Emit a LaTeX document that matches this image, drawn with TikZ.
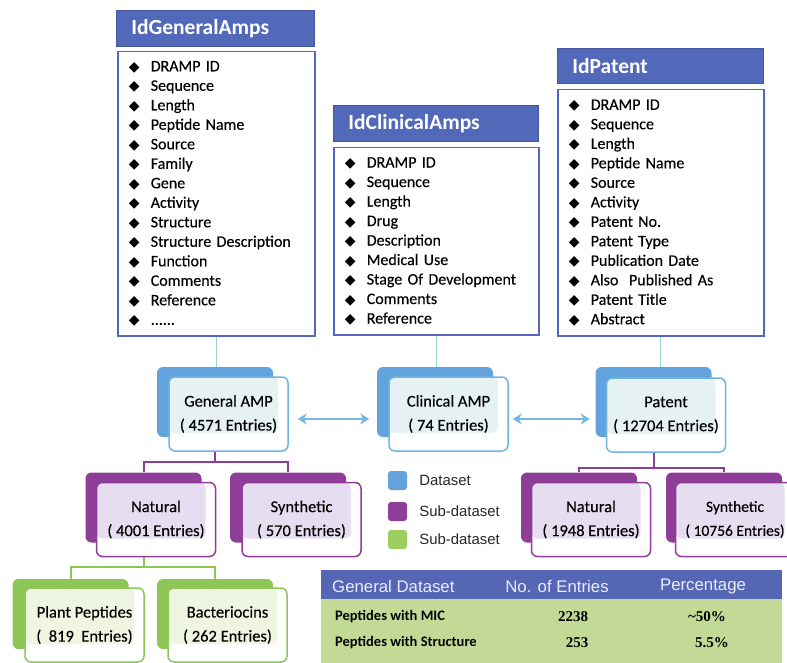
\documentclass[tikz,border=0pt]{standalone}
\usepackage{fontspec}
\setmainfont{Carlito}[UprightFeatures={FakeBold=0.3}]
\newfontfamily\arialfont{Liberation Sans}
\newfontfamily\timesfont{Liberation Serif}
\newfontfamily\symfont{DejaVu Sans}
\usetikzlibrary{arrows.meta,positioning,backgrounds}

\definecolor{hdrblue}{RGB}{82,104,184}
\definecolor{lstblue}{RGB}{84,104,190}
\definecolor{dsblue}{RGB}{98,163,221}
\definecolor{dsedge}{RGB}{112,180,228}
\definecolor{dstint}{RGB}{230,241,244}
\definecolor{subpur}{RGB}{142,62,152}
\definecolor{purtint}{RGB}{230,222,240}
\definecolor{subgrn}{RGB}{143,198,88}
\definecolor{grntint}{RGB}{238,245,224}
\definecolor{tealline}{RGB}{160,208,218}
\definecolor{arrblue}{RGB}{122,182,226}
\definecolor{tbhead}{RGB}{85,103,180}
\definecolor{tbbody}{RGB}{195,217,150}
\definecolor{leggrn}{RGB}{155,205,95}

\newcommand{\dia}{\makebox[22pt][l]{\symfont\fontsize{14}{14}\selectfont ◆}}

\begin{document}
\begin{tikzpicture}[x=1pt, y=-1pt, >={Stealth[length=9pt,width=11pt]},
  hdr/.style={fill=hdrblue, draw=hdrblue!85!black, line width=0.8pt, text=white,
    font=\fontsize{21.5}{24}\selectfont\bfseries, anchor=north west,
    minimum height=36pt, inner xsep=15pt, align=left},
  lst/.style={draw=lstblue, line width=1.5pt, fill=white, anchor=north west,
    inner xsep=11pt, align=left, text=black, font=\fontsize{16}{19.5}\selectfont},
  dback/.style={rounded corners=6pt, fill=#1, minimum width=116pt,
    minimum height=70pt, inner sep=0pt},
  dfront/.style={draw=#1, line width=1.5pt, rounded corners=6pt, fill=white,
    minimum width=119pt, minimum height=74pt, align=center, text=black,
    font=\fontsize{16.5}{24}\selectfont},
  tint/.style={path picture={\fill[#1] (path picture bounding box.north west)
    rectangle ([xshift=-10pt,yshift=18pt]path picture bounding box.south east);}},
  linkteal/.style={tealline, line width=1.2pt},
  linkpur/.style={subpur, line width=2pt},
  linkgrn/.style={subgrn, line width=2pt},
  dsarrow/.style={<->, arrblue, line width=2.2pt},
  legsq/.style={rounded corners=3pt, minimum size=19pt, inner sep=0pt},
  legtxt/.style={inner sep=0pt, text=black!85, font=\arialfont\fontsize{14.9}{16}\selectfont},
  thtxt/.style={inner sep=0pt, text=white!92!blue, font=\arialfont\fontsize{16.8}{18}\selectfont},
  rowlbl/.style={inner sep=0pt, anchor=west, font=\fontsize{14.5}{16}\selectfont\bfseries},
  rownum/.style={inner sep=0pt, font=\timesfont\fontsize{15}{16}\selectfont\bfseries}]

\useasboundingbox (0,0) rectangle (787,663);

% tables of the three datasets
\node[hdr, text width=168pt] (hgen) at (116,10) {IdGeneralAmps};
\node[lst, text width=175pt, minimum height=284pt] (lgen) at (117,51)
  {\dia DRAMP ID\\ \dia Sequence\\ \dia Length\\ \dia Peptide Name\\ \dia Source\\
   \dia Family\\ \dia Gene\\ \dia Activity\\ \dia Structure\\ \dia Structure Description\\
   \dia Function\\ \dia Comments\\ \dia Reference\\ \dia ......};

\node[hdr, text width=175pt] (hclin) at (333,105) {IdClinicalAmps};
\node[lst, text width=183pt, minimum height=187pt] (lclin) at (333,147)
  {\dia DRAMP ID\\ \dia Sequence\\ \dia Length\\ \dia Drug\\ \dia Description\\
   \dia Medical Use\\ \dia Stage Of Development\\ \dia Comments\\ \dia Reference};

\node[hdr, text width=176pt, minimum height=35pt] (hpat) at (557,48) {IdPatent};
\node[lst, text width=184pt, minimum height=246pt] (lpat) at (557,89)
  {\dia DRAMP ID\\ \dia Sequence\\ \dia Length\\ \dia Peptide Name\\ \dia Source\\
   \dia Activity\\ \dia Patent No.\\ \dia Patent Type\\ \dia Publication Date\\
   \dia Also\ \ Published As\\ \dia Patent Title\\ \dia Abstract};

% datasets
\node[dback=dsblue] (genb) at (215,402) {};
\node[dfront=dsedge, tint=dstint] (gen) at (228.5,414) {General AMP\\( 4571 Entries)};
\node[dback=dsblue] (clinb) at (435,402) {};
\node[dfront=dsedge, tint=dstint] (clin) at (448.5,414) {Clinical AMP\\( 74 Entries)};
\node[dback=dsblue] (patb) at (653.5,402) {};
\node[dfront=dsedge, tint=dstint] (pat) at (666,415) {Patent\\( 12704\ Entries)};

% sub-datasets
\node[dback=subpur] (nat1b) at (143.5,507.5) {};
\node[dfront=subpur, tint=purtint] (nat1) at (156,519.5) {Natural\\( 4001 Entries)};
\node[dback=subpur] (syn1b) at (288,507.5) {};
\node[dfront=subpur, tint=purtint] (syn1) at (301.5,519.5) {Synthetic\\( 570 Entries)};
\node[dback=subpur] (nat2b) at (579,507.5) {};
\node[dfront=subpur, tint=purtint] (nat2) at (591,519.5) {Natural\\( 1948 Entries)};
\node[dback=subpur] (syn2b) at (724,507.5) {};
\node[dfront=subpur, tint=purtint, inner xsep=0pt, font=\fontsize{15.5}{24}\selectfont]
  (syn2) at (735,519.5) {Synthetic\\( 10756 Entries)};

\node[dback=subgrn] (plantb) at (70.5,614) {};
\node[dfront=subgrn, tint=grntint] (plant) at (84.5,625) {Plant Peptides\\(\ \ 819\ \ Entries)};
\node[dback=subgrn] (bactb) at (215,614) {};
\node[dfront=subgrn, tint=grntint] (bact) at (227.5,625) {Bacteriocins\\( 262 Entries)};

\begin{scope}[on background layer]
\draw[linkteal] (lgen.south) -- (lgen.south |- genb.north);
\draw[linkteal] (lclin.south) -- (lclin.south |- clinb.north);
\draw[linkteal] (lpat.south) -- (lpat.south |- patb.north);
\draw[linkpur] (genb.south) -- ++(0,25) -| (nat1b.north);
\draw[linkpur] (genb.south) -- ++(0,25) -| (syn1b.north);
\draw[linkpur] (patb.south) -- ++(0,31) -| (nat2b.north);
\draw[linkpur] (patb.south) -- ++(0,31) -| (syn2b.north);
\draw[linkgrn] (nat1b.south) -- ++(0,24.5) -| (plantb.north);
\draw[linkgrn] (nat1b.south) -- ++(0,24.5) -| (bactb.north);
\end{scope}

\draw[dsarrow] ([shift={(9pt,-5pt)}]gen.east) -- ([shift={(-19pt,-5pt)}]clin.west);
\draw[dsarrow] ([shift={(4pt,-5pt)}]clin.east) -- ([shift={(-16pt,-4pt)}]pat.west);

% legend
\node[legsq, fill=dsblue] (lg1) at (397.5,480.5) {};
\node[legtxt, right=12pt of lg1] (lt1) {Dataset};
\node[legsq, fill=subpur] (lg2) at (397.5,511.5) {};
\node[legtxt, right=12pt of lg2] (lt2) {Sub-dataset};
\node[legsq, fill=leggrn] (lg3) at (397.5,539.5) {};
\node[legtxt, right=12pt of lg3] (lt3) {Sub-dataset};

% summary table
\fill[tbhead] (321,570) rectangle (782,599);
\fill[tbbody] (321,599) rectangle (782,665);
\node[thtxt, anchor=west] (th1) at (332,586) {General Dataset};
\node[thtxt] (th2) at (557,586) {No. of Entries};
\node[thtxt] (th3) at (703,586) {Percentage};
\node[rowlbl] (r1) at (335,617) {Peptides with MIC};
\node[rownum] (n1) at (573,617) {2238};
\node[rownum] (p1) at (707,617) {\textasciitilde 50\%};
\node[rowlbl] (r2) at (335,643) {Peptides with Structure};
\node[rownum] (n2) at (577,643) {253};
\node[rownum] (p2) at (712,643) {5.5\%};

\end{tikzpicture}
\end{document}
